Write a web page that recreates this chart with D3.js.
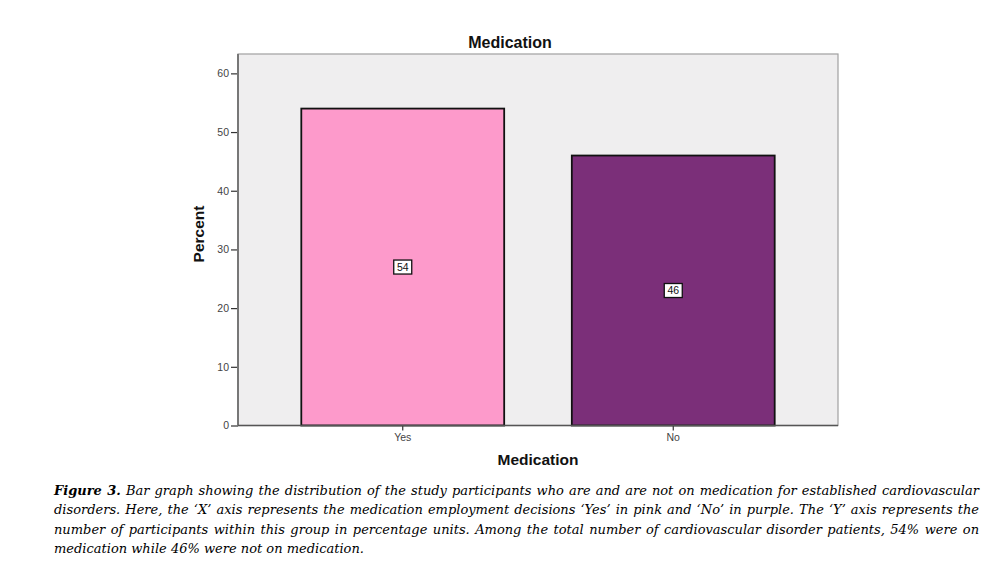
<!DOCTYPE html>
<html><head><meta charset="utf-8">
<script src="https://cdn.jsdelivr.net/npm/d3@7"></script>
<style>body{margin:0;background:#fff}svg{display:block}</style>
</head><body>
<svg id="c" width="996" height="561"></svg>
<script>
const categories = ["Yes", "No"];
const percents = [54, 46];
const yTicks = [0, 10, 20, 30, 40, 50, 60];
const barColors = ["#fd9acb", "#7b2f79"];
const captionLines = [
  [["Figure 3.", true], [" Bar graph showing the distribution of the study participants who are and are not on medication for established cardiovascular", false]],
  [["disorders. Here, the \u2018X\u2019 axis represents the medication employment decisions \u2018Yes\u2019 in pink and \u2018No\u2019 in purple. The \u2018Y\u2019 axis represents the", false]],
  [["number of participants within this group in percentage units. Among the total number of cardiovascular disorder patients, 54% were on", false]],
  [["medication while 46% were not on medication.", false]]
];

const svg = d3.select("#c");
const L = 238, R = 838, T = 54, B = 425.5;

const x = d3.scaleBand().domain(categories).range([L, R]).paddingInner(0.25).paddingOuter(0.234);
const y = d3.scaleLinear().domain([0, 63.3]).range([B, T]);

// plot background
svg.append("rect").attr("x", L).attr("y", T).attr("width", R - L).attr("height", B - T)
  .attr("fill", "#efeeef").attr("stroke", "#a0a0a0").attr("stroke-width", 1.2);

// bars
svg.selectAll("rect.bar").data(categories).enter().append("rect").attr("class", "bar")
  .attr("x", d => x(d)).attr("width", x.bandwidth())
  .attr("y", (d, i) => y(percents[i])).attr("height", (d, i) => B - y(percents[i]))
  .attr("fill", (d, i) => barColors[i]).attr("stroke", "#111").attr("stroke-width", 1.8);

// y axis
const yAxis = svg.append("g").attr("transform", `translate(${L},0)`)
  .call(d3.axisLeft(y).tickValues(yTicks).tickSize(7).tickPadding(2));
yAxis.select(".domain").remove();
yAxis.selectAll("line").attr("stroke", "#333").attr("stroke-width", 1.2);
yAxis.selectAll("text").attr("font-family", "Liberation Sans, Arial, sans-serif").attr("font-size", 10.5).attr("fill", "#444");
svg.append("line").attr("x1", L).attr("x2", L).attr("y1", T).attr("y2", B).attr("stroke", "#777").attr("stroke-width", 2);

// x axis
const xAxis = svg.append("g").attr("transform", `translate(0,${B})`)
  .call(d3.axisBottom(x).tickSize(5).tickPadding(3));
xAxis.select(".domain").remove();
xAxis.selectAll("line").attr("stroke", "#333").attr("stroke-width", 1.2);
xAxis.selectAll("text").attr("font-family", "Liberation Sans, Arial, sans-serif").attr("font-size", 10.5).attr("fill", "#444");
svg.append("line").attr("x1", L).attr("x2", R).attr("y1", B).attr("y2", B).attr("stroke", "#555").attr("stroke-width", 1.5);

// value labels
const lab = svg.selectAll("g.lab").data(categories).enter().append("g").attr("class", "lab")
  .attr("transform", (d, i) => `translate(${x(d) + x.bandwidth() / 2},${y(percents[i] / 2)})`);
lab.append("rect").attr("x", -9).attr("y", -7).attr("width", 18).attr("height", 14)
  .attr("fill", "#fff").attr("stroke", "#111").attr("stroke-width", 1.3);
lab.append("text").attr("text-anchor", "middle").attr("dy", "0.36em")
  .attr("font-family", "Liberation Sans, Arial, sans-serif").attr("font-size", 10.5).attr("fill", "#111")
  .text((d, i) => percents[i]);

// titles
svg.append("text").attr("x", 510).attr("y", 48).attr("text-anchor", "middle")
  .attr("font-family", "Liberation Sans, Arial, sans-serif").attr("font-weight", "bold").attr("font-size", 16)
  .attr("fill", "#111").text("Medication");
svg.append("text").attr("x", 538).attr("y", 465).attr("text-anchor", "middle")
  .attr("font-family", "Liberation Sans, Arial, sans-serif").attr("font-weight", "bold").attr("font-size", 15.5)
  .attr("fill", "#111").text("Medication");
svg.append("text").attr("transform", "translate(204,234) rotate(-90)").attr("text-anchor", "middle")
  .attr("font-family", "Liberation Sans, Arial, sans-serif").attr("font-weight", "bold").attr("font-size", 15.5)
  .attr("fill", "#111").text("Percent");

// caption (justified)
const capL = 54, capR = 979;
captionLines.forEach((parts, li) => {
  const t = svg.append("text").attr("x", capL).attr("y", 495 + li * 19.3)
    .attr("font-family", "DejaVu Serif, serif").attr("font-style", "italic").attr("font-size", 13)
    .attr("fill", "#000").attr("xml:space", "preserve");
  parts.forEach(([s, b]) => t.append("tspan").attr("font-weight", b ? "bold" : "normal").text(s));
  if (li < captionLines.length - 1) {
    const w = t.node().getComputedTextLength();
    const spaces = parts.map(p => p[0]).join("").split(" ").length - 1;
    t.attr("word-spacing", (capR - capL - w) / spaces);
  }
});
</script>
</body></html>
